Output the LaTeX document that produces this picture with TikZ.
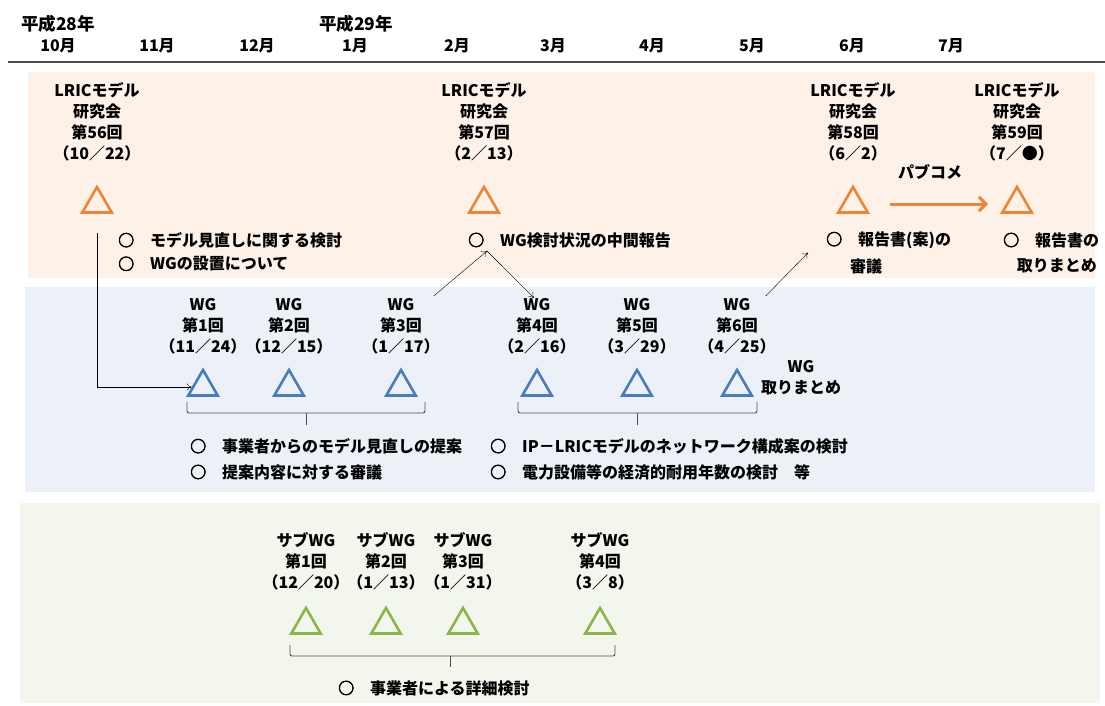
\documentclass[tikz,border=0pt]{standalone}
\usepackage{fontspec}
\setmainfont{Noto Sans CJK JP}
\newfontfamily\ringfont[FakeBold=3]{Noto Sans CJK JP}
\newcommand\maru{{\ringfont ○}}
\usepackage{tikz}
\usetikzlibrary{shapes.geometric,arrows.meta}
\definecolor{orgline}{RGB}{238,132,54}
\definecolor{bluline}{RGB}{72,124,190}
\definecolor{grnline}{RGB}{140,182,72}
\definecolor{orgbg}{RGB}{253,241,232}
\definecolor{blubg}{RGB}{236,241,248}
\definecolor{grnbg}{RGB}{243,246,236}
\tikzset{
	lbl/.style = {align=center, inner sep=0pt, font=\fontsize{16}{21}\selectfont\bfseries},
	memo/.style = {anchor=west, inner sep=0pt, font=\fontsize{16}{21}\selectfont\bfseries},
	tri/.style = {regular polygon, regular polygon sides=3, draw, line width=2.6pt, minimum size=34pt, inner sep=0pt},
	conn/.style = {-{To[length=5pt,width=7pt]}, thin},
	brace/.style = {draw=black!70, line width=0.9pt, rounded corners=2pt}
}

\begin{document}
\begin{tikzpicture}[x=1pt, y=-1pt]
		\useasboundingbox (0,0) rectangle (1105,706);
		\fill [orgbg] (28,72) rectangle (1095,278);
		\fill [blubg] (25,287) rectangle (1095,492);
		\fill [grnbg] (20,503) rectangle (1100,703);
		\draw [black!70, line width=1.6pt] (8,62) -- (1105,62);

		\node (y28) at (58,24) [lbl, font=\fontsize{17.5}{21}\selectfont\bfseries] {平成28年};
		\node (y29) at (356,24) [lbl, font=\fontsize{17.5}{21}\selectfont\bfseries] {平成29年};
		\foreach \m/\x in {10/58, 11/157, 12/257, 1/355, 2/457, 3/553, 4/652, 5/752, 6/852, 7/951}
			\node (m\m) at (\x,46) [lbl] {\m 月};

		\node (k56) at (97,204) [tri, orgline] {};
		\node (k57) at (484,204) [tri, orgline] {};
		\node (k58) at (853,204) [tri, orgline] {};
		\node (k59) at (1017,204) [tri, orgline] {};
		\node (lk56) at (97,122) [lbl] {LRICモデル\\研究会\\第56回\\（10／22）};
		\node (lk57) at (484,122) [lbl] {LRICモデル\\研究会\\第57回\\（2／13）};
		\node (lk58) at (853,122) [lbl] {LRICモデル\\研究会\\第58回\\（6／2）};
		\node (lk59) at (1017,122) [lbl] {LRICモデル\\研究会\\第59回\\（7／●）};
		\node (pub) at (930,172) [lbl] {パブコメ};
		\draw [orgline, line width=3pt, -{Straight Barb[length=7pt,width=14pt]}] ([xshift=37pt]k58.center) -- ([xshift=-29pt]k59.center);

		\node (t56a) at (118,240) [memo] {\maru　モデル見直しに関する検討};
		\node (t56b) at (118,264) [memo] {\maru　WGの設置について};
		\node (t57) at (468,240) [memo] {\maru　WG検討状況の中間報告};
		\node (t58a) at (826,240) [memo] {\maru　報告書(案)の};
		\node (t58b) at (850,266) [memo] {審議};
		\node (t59a) at (1003,240) [memo] {\maru　報告書の};
		\node (t59b) at (1097,266) [memo, anchor=east] {取りまとめ};

		\foreach \n/\x/\d in {1/203/11／24, 2/289/12／15, 3/401/1／17, 4/537/2／16, 5/637/3／29, 6/737/4／25} {
			\node (w\n) at (\x,387) [tri, bluline] {};
			\node (lw\n) at (\x,326) [lbl] {WG\\第\n 回\\（\d）};
		}
		\node (wend) at (801,378) [lbl] {WG\\取りまとめ};

		\draw [brace] (187,402) -- (187,413) -- (425,413) -- (425,402);
		\draw [brace] (306,413) -- (306,425);
		\draw [brace] (518,402) -- (518,413) -- (757,413) -- (757,402);
		\draw [brace] (637,413) -- (637,425);
		\node (tw1a) at (190,446) [memo] {\maru　事業者からのモデル見直しの提案};
		\node (tw1b) at (190,472) [memo] {\maru　提案内容に対する審議};
		\node (tw2a) at (490,446) [memo] {\maru　IP－LRICモデルのネットワーク構成案の検討};
		\node (tw2b) at (490,472) [memo] {\maru　電力設備等の経済的耐用年数の検討　等};

		\foreach \n/\x/\d in {1/306/12／20, 2/386/1／13, 3/463/1／31, 4/600/3／8} {
			\node (s\n) at (\x,625) [tri, grnline] {};
			\node (ls\n) at (\x,561) [lbl] {サブWG\\第\n 回\\（\d）};
		}
		\draw [brace] (290,645) -- (290,656) -- (615,656) -- (615,645);
		\draw [brace] (450,656) -- (450,667);
		\node (ts) at (338,688) [memo] {\maru　事業者による詳細検討};

		\coordinate (hub) at (487,251);
		\coordinate (drop) at (97,233);
		\draw [conn] (drop) |- (w1);
		\draw [conn] ([xshift=-6pt,yshift=2pt]lw3.north east) -- (hub);
		\draw [conn] (hub) -- ([xshift=-3pt]lw4.north);
		\draw [conn] ([xshift=-10pt,yshift=2pt]lw6.north east) -- ([xshift=-18pt,yshift=-4pt]t58a.south west);
	\end{tikzpicture}
\end{document}
